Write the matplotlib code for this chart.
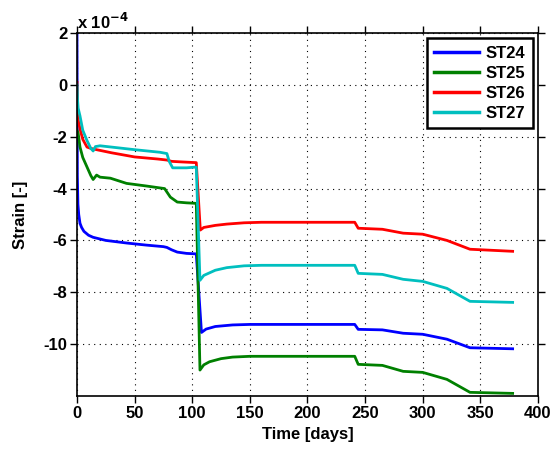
import numpy as np
import matplotlib.pyplot as plt

plt.rcParams['font.family'] = ['Liberation Sans', 'DejaVu Sans']
plt.rcParams['font.weight'] = 'bold'
plt.rcParams['axes.unicode_minus'] = False

## strain values in units of 1e-4
t24 = [0, 0.3, 0.8, 1.5, 2.6, 4, 6, 10, 14, 25, 43, 60, 75, 78, 82, 87, 95, 103.5,
       108, 112, 120, 135, 150, 241, 244, 265, 283, 300, 321, 341, 378]
s24 = [2.0, -3.5, -4.6, -5.0, -5.34, -5.5, -5.65, -5.8, -5.88, -6.0, -6.1, -6.18, -6.24,
       -6.27, -6.36, -6.45, -6.5, -6.52, -9.55, -9.42, -9.32, -9.26, -9.24, -9.24, -9.43,
       -9.45, -9.58, -9.62, -9.81, -10.14, -10.18]

t25 = [0, 0.5, 1, 2.6, 5, 8.7, 12, 14, 17, 20, 29, 43, 60, 76, 81, 87, 95, 103.5,
       106.7, 110, 115, 125, 135, 150, 241, 244, 265, 283, 300, 321, 341, 378]
s25 = [-1.75, -1.8, -1.86, -2.4, -2.8, -3.17, -3.5, -3.65, -3.48, -3.56, -3.6, -3.8, -3.9,
       -4.0, -4.33, -4.52, -4.55, -4.57, -11.0, -10.8, -10.68, -10.56, -10.5, -10.47, -10.47,
       -10.78, -10.82, -11.05, -11.09, -11.36, -11.86, -11.9]

t26 = [0, 0.5, 1, 2.6, 5, 8.7, 12, 17, 30, 50, 70, 78, 82, 90, 103.5, 107, 110, 120,
       130, 145, 160, 241, 244, 265, 283, 300, 321, 341, 378]
s26 = [0.1, -0.9, -1.35, -1.7, -2.1, -2.4, -2.45, -2.5, -2.62, -2.78, -2.86, -2.9, -2.95,
       -2.97, -3.0, -5.6, -5.5, -5.42, -5.37, -5.32, -5.3, -5.3, -5.53, -5.57, -5.72, -5.76,
       -6.0, -6.34, -6.42]

t27 = [0, 0.5, 1, 2.6, 5, 8.7, 12, 14, 16, 20, 30, 50, 72, 78, 80, 83, 95, 103.5,
       106.7, 110, 120, 130, 145, 160, 241, 244, 265, 283, 300, 321, 341, 378]
s27 = [0.0, -0.6, -0.9, -1.2, -1.75, -2.15, -2.45, -2.55, -2.38, -2.35, -2.4, -2.5, -2.6,
       -2.65, -2.95, -3.2, -3.2, -3.17, -7.54, -7.35, -7.15, -7.05, -6.98, -6.96, -6.96,
       -7.27, -7.31, -7.5, -7.58, -7.85, -8.35, -8.39]

series = [('ST24', t24, s24, (0, 0, 1)),
          ('ST25', t25, s25, (0, 0.5, 0)),
          ('ST26', t26, s26, (1, 0, 0)),
          ('ST27', t27, s27, (0, 0.75, 0.75))]

fig = plt.figure(figsize=(5.6, 4.51), dpi=100)
ax = fig.add_axes([0.1375, 0.122, 0.8232, 0.8048])

for name, t, s, c in series:
    ax.plot(t, s, color=c, lw=2, label=name)

ax.set_xlim(0, 400)
ax.set_ylim(-12, 2)
ax.set_xticks(np.arange(0, 401, 50))
ax.set_yticks([-10, -8, -6, -4, -2, 0, 2])
ax.grid(True, linestyle=(0, (1, 4)), color='black', lw=0.8)
ax.tick_params(direction='out', length=5, width=1, top=True, right=True,
               labelsize=12, pad=2)
for sp in ax.spines.values():
    sp.set_linewidth(1.2)

ax.set_xlabel('Time [days]', fontsize=12, fontweight='bold', labelpad=-8)
ax.set_ylabel('Strain [-]', fontsize=12, fontweight='bold', labelpad=11)
ax.xaxis.set_label_coords(0.5, -0.085)
ax.text(0.0, 1.002, r'x 10$^{\mathbf{-4}}$', transform=ax.transAxes, fontsize=12,
        fontweight='bold', ha='left', va='bottom')

leg = ax.legend(loc='upper right', fontsize=12, fancybox=False, framealpha=1,
                edgecolor='black', borderaxespad=0.3, handlelength=2.7,
                handletextpad=0.4, labelspacing=0.3, borderpad=0.45)
leg.get_frame().set_linewidth(1.8)
for h in leg.get_lines():
    h.set_linewidth(2.5)

fig.savefig('out.png', dpi=100)
